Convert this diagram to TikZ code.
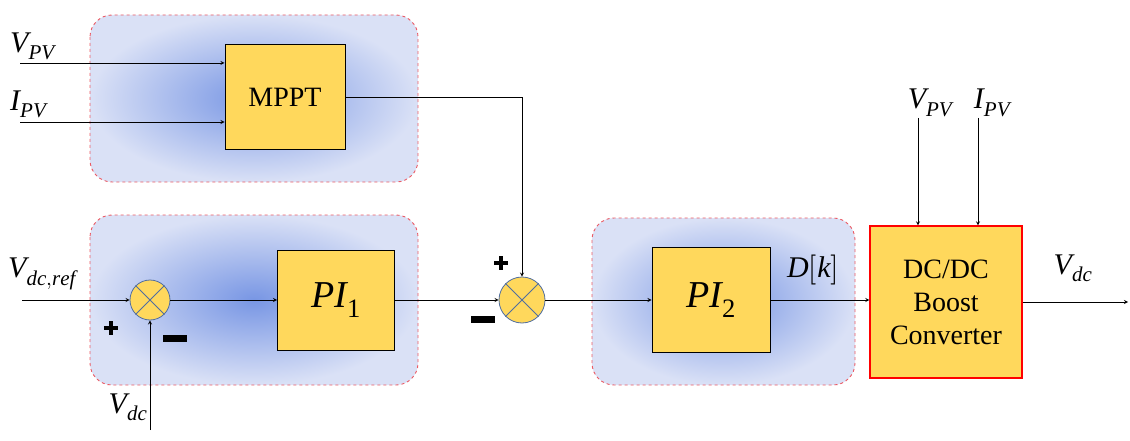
\documentclass[tikz,border=0pt]{standalone}
\usepackage{fontspec}
\setmainfont{Liberation Serif}
\usepackage{unicode-math}
\setmathfont{Latin Modern Math}
\setmathfont[range=it]{Liberation Serif Italic}
\setmathfont[range=up]{Liberation Serif}
\definecolor{grpred}{RGB}{235,90,100}
\definecolor{inblue}{RGB}{120,150,228}
\definecolor{outblue}{RGB}{218,225,246}
\definecolor{blky}{RGB}{255,216,92}
\definecolor{sumb}{RGB}{80,110,160}
\begin{document}
\begin{tikzpicture}[x=1pt,y=-1pt,
 grp/.style={draw=grpred,dashed,line width=0.9pt,rounded corners=22pt,inner color=inblue,outer color=outblue},
 blk/.style={draw=black,line width=1pt,fill=blky,inner sep=0pt},
 sum/.style={circle,draw=sumb,line width=0.8pt,fill=blky,minimum size=40pt,inner sep=0pt},
 cross/.style={draw=sumb,line width=0.8pt},
 ar/.style={->,>=stealth,line width=0.8pt},
 lbl/.style={font=\fontsize{30}{30}\selectfont,inner sep=0pt}]
\useasboundingbox (0,0) rectangle (1130,441);
% groups
\shade[grp] (90,15) rectangle (418,182);
\shade[grp] (90,215) rectangle (418,385);
\shade[grp] (592,218) rectangle (855,385);
% blocks
\node[blk,minimum width=120pt,minimum height=105pt,font=\fontsize{28}{28}\selectfont] (mppt) at (285,97) {MPPT};
\node[blk,minimum width=117pt,minimum height=100pt,font=\fontsize{38}{38}\selectfont] (pi1) at (336,300) {$PI_1$};
\node[blk,minimum width=118pt,minimum height=105pt,font=\fontsize{38}{38}\selectfont] (pi2) at (711,300) {$PI_2$};
\node[blk,draw=red,line width=1.2pt,minimum width=152pt,minimum height=152pt,align=center,font=\fontsize{28}{33}\selectfont] (dc) at (946,302) {DC/DC\\Boost\\Converter};
\node[sum] (s1) at (150,300) {};
\node[sum,minimum size=46pt] (s2) at (522,300) {};
\draw[cross] (s1.north west)--(s1.south east) (s1.north east)--(s1.south west);
\draw[cross] (s2.north west)--(s2.south east) (s2.north east)--(s2.south west);
% inputs
\coordinate (vpvin) at (20,63);
\coordinate (ipvin) at (20,122);
\coordinate (vrefin) at (22,300);
\coordinate (vdcin) at (150,430);
\coordinate (vpv2) at (918,118);
\coordinate (ipv2) at (978,118);
\coordinate (out) at (1128,302);
\node[lbl,anchor=south west] (lvpv) at (10,60) {$V_{PV}$};
\node[lbl,anchor=south west] (lipv) at (10,118) {$I_{PV}$};
\node[lbl,anchor=south west] (lvref) at (8,290) {$V_{dc,\mathit{ref}}$};
\node[lbl] (lvdc) at (128,407) {$V_{dc}$};
\node[lbl] (lvpv2) at (930,103) {$V_{PV}$};
\node[lbl] (lipv2) at (992,103) {$I_{PV}$};
\node[lbl] (ldk) at (813,270) {$D[k]$};
\node[lbl] (lvo) at (1073,268) {$V_{dc}$};
\draw[ar] (vpvin) -- (vpvin -| mppt.west);
\draw[ar] (ipvin) -- (ipvin -| mppt.west);
\draw[ar] (mppt.east) -| (s2.north);
\draw[ar] (vrefin) -- (s1.west);
\draw[ar] (vdcin) -- (s1.south);
\draw[ar] (s1.east) -- (pi1.west);
\draw[ar] (pi1.east) -- (s2.west);
\draw[ar] (s2.east) -- (pi2.west);
\draw[ar] (pi2.east) -- (pi2.east -| dc.west);
\draw[ar] (vpv2) -- (vpv2 |- dc.north);
\draw[ar] (ipv2) -- (ipv2 |- dc.north);
\draw[ar] (dc.east |- out) -- (out);
% signs
\fill (104,326) rectangle (118,330); \fill (109,321) rectangle (113,335);
\fill (163,335) rectangle (187,342);
\fill (494,261) rectangle (508,265); \fill (499,256) rectangle (503,270);
\fill (471,316) rectangle (495,323);
\end{tikzpicture}
\end{document}
